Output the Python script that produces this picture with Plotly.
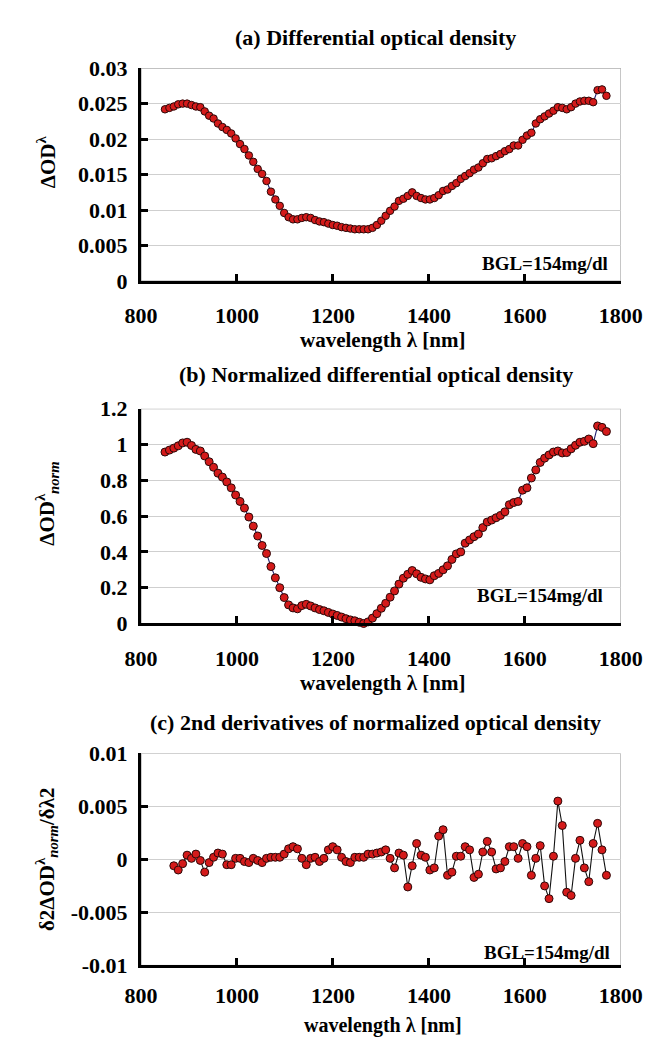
import plotly.graph_objects as go

# ---------------- data ----------------
WAVELENGTH = [
    850.0, 859.2, 868.4, 877.6, 886.8, 896.0, 905.2, 914.4, 923.6, 932.8,
    942.0, 951.2, 960.4, 969.6, 978.8, 988.0, 997.2, 1006.4, 1015.6, 1024.8,
    1034.0, 1043.2, 1052.4, 1061.6, 1070.8, 1080.0, 1089.2, 1098.4, 1107.6, 1116.8,
    1126.0, 1135.2, 1144.4, 1153.6, 1162.8, 1172.0, 1181.2, 1190.4, 1199.6, 1208.8,
    1218.0, 1227.2, 1236.4, 1245.6, 1254.8, 1264.0, 1273.2, 1282.4, 1291.6, 1300.8,
    1310.0, 1319.2, 1328.4, 1337.6, 1346.8, 1356.0, 1365.2, 1374.4, 1383.6, 1392.8,
    1402.0, 1411.2, 1420.4, 1429.6, 1438.8, 1448.0, 1457.2, 1466.4, 1475.6, 1484.8,
    1494.0, 1503.2, 1512.4, 1521.6, 1530.8, 1540.0, 1549.2, 1558.4, 1567.6, 1576.8,
    1586.0, 1595.2, 1604.4, 1613.6, 1622.8, 1632.0, 1641.2, 1650.4, 1659.6, 1668.8,
    1678.0, 1687.2, 1696.4, 1705.6, 1714.8, 1724.0, 1733.2, 1742.4, 1751.6, 1760.8,
    1770.0,
]

OD_DIFF = [
    0.0242, 0.0244, 0.0246, 0.0249, 0.0250, 0.0250, 0.0248, 0.0246, 0.0245, 0.0239,
    0.0233, 0.0229, 0.0222, 0.0217, 0.0213, 0.0208, 0.0201, 0.0193, 0.0186, 0.0177,
    0.0168, 0.0158, 0.0151, 0.0141, 0.0126, 0.0115, 0.0106, 0.0096, 0.0090, 0.0087,
    0.0087, 0.0089, 0.0090, 0.0089, 0.0086, 0.0084, 0.0083, 0.0081, 0.0079, 0.0078,
    0.0076, 0.0075, 0.0074, 0.0073, 0.0073, 0.0073, 0.0073, 0.0075, 0.0079, 0.0085,
    0.0092, 0.0099, 0.0105, 0.0113, 0.0116, 0.0120, 0.0125, 0.0120, 0.0117, 0.0115,
    0.0115, 0.0117, 0.0121, 0.0127, 0.0129, 0.0134, 0.0138, 0.0144, 0.0148, 0.0152,
    0.0157, 0.0160, 0.0166, 0.0172, 0.0173, 0.0176, 0.0179, 0.0183, 0.0186, 0.0191,
    0.0191, 0.0199, 0.0205, 0.0209, 0.0222, 0.0228, 0.0232, 0.0236, 0.0240, 0.0245,
    0.0244, 0.0242, 0.0245, 0.0250, 0.0253, 0.0254, 0.0254, 0.0252, 0.0269, 0.0270,
    0.0261,
]

OD_NORM = [
    0.958, 0.969, 0.980, 0.993, 1.009, 1.013, 0.995, 0.973, 0.964, 0.936,
    0.904, 0.873, 0.840, 0.818, 0.791, 0.758, 0.718, 0.682, 0.645, 0.595,
    0.544, 0.489, 0.436, 0.391, 0.318, 0.255, 0.200, 0.145, 0.104, 0.087,
    0.082, 0.100, 0.107, 0.098, 0.087, 0.078, 0.071, 0.062, 0.053, 0.045,
    0.036, 0.027, 0.020, 0.015, 0.007, 0.000, 0.009, 0.030, 0.055, 0.085,
    0.113, 0.147, 0.182, 0.220, 0.253, 0.275, 0.296, 0.278, 0.258, 0.249,
    0.244, 0.267, 0.280, 0.300, 0.322, 0.358, 0.389, 0.400, 0.449, 0.467,
    0.485, 0.500, 0.536, 0.567, 0.578, 0.591, 0.604, 0.624, 0.664, 0.676,
    0.682, 0.745, 0.758, 0.813, 0.858, 0.900, 0.924, 0.942, 0.958, 0.964,
    0.953, 0.955, 0.976, 0.996, 1.013, 1.018, 1.031, 1.005, 1.104, 1.096,
    1.073,
]

D2_WAVELENGTH = WAVELENGTH[2:]
D2_NORM = [
    -0.0006, -0.0010, -0.0004, 0.0004, 0.0001, 0.0005, -0.0001, -0.0012, -0.0003, 0.0002,
    0.0006, 0.0005, -0.0005, -0.0005, 0.0001, 0.0001, -0.0002, -0.0003, 0.0001, -0.0001,
    -0.0003, 0.0001, 0.0002, 0.0002, 0.0002, 0.0005, 0.0010, 0.0012, 0.0010, 0.0001,
    -0.0005, 0.0001, 0.0002, -0.0002, 0.0001, 0.0009, 0.0012, 0.0009, 0.0002, -0.0002,
    -0.0003, 0.0002, 0.0002, 0.0002, 0.0005, 0.0005, 0.0006, 0.0007,
    0.0009, 0.0001, -0.0008, 0.0006, 0.0004, -0.0026, -0.0006, 0.0015, 0.0004, 0.0002,
    -0.0010, -0.0008, 0.0022, 0.0028, -0.0015, -0.0012, 0.0003, 0.0003, 0.0012, 0.0009,
    -0.0017, -0.0014, 0.0007, 0.0017, 0.0007, -0.0009, -0.0008, -0.0002, 0.0012, 0.0012,
    0.0001, 0.0015, 0.0012, -0.0015, 0.0001, 0.0013, -0.0025, -0.0037, 0.0003, 0.0055,
    0.0032, -0.0031, -0.0034, 0.0001, 0.0018, -0.0008, -0.0021, 0.0015, 0.0034, 0.0009,
    -0.0015,
]

X_TICKS = [800, 1000, 1200, 1400, 1600, 1800]
A_TICKS = [0, 0.005, 0.01, 0.015, 0.02, 0.025, 0.03]
A_TICKTEXT = ["0", "0.005", "0.01", "0.015", "0.02", "0.025", "0.03"]
B_TICKS = [0, 0.2, 0.4, 0.6, 0.8, 1.0, 1.2]
B_TICKTEXT = ["0", "0.2", "0.4", "0.6", "0.8", "1", "1.2"]
C_TICKS = [-0.01, -0.005, 0, 0.005, 0.01]
C_TICKTEXT = ["-0.01", "-0.005", "0", "0.005", "0.01"]

TITLES = [
    "(a) Differential optical density",
    "(b) Normalized differential optical density",
    "(c) 2nd derivatives of normalized optical density",
]
Y_TITLES = [
    "ΔOD<sup>λ</sup>",
    "ΔOD<sup>λ</sup><sub><i>norm</i></sub>",
    "δ2ΔOD<sup>λ</sup><sub><i>norm</i></sub>/δλ2",
]
X_TITLE = "wavelength λ [nm]"
BGL_LABEL = "BGL=154mg/dl"

# ---------------- layout constants (pixels) ----------------
W, H = 659, 1044
FONT = "Liberation Serif"
X_LEFT, X_RIGHT = 123.3, 633.3
PANELS = [(49.3, 267.5), (398.3, 618.3), (751.4, 968.6)]  # (top, bottom)
TITLE_Y = [18, 363, 720]
XTITLE_Y = [328, 679, 1030]
XTITLE_SIZE = [21, 21, 20]
XLABEL_STANDOFF = [13, 13, 8]
YTITLE_Y = [145, 495, 860]
BGL_POS = [(622, 249), (616, 590), (624, 955)]


def px(xp):
    return xp / W


def py(yp):
    return 1 - yp / H


fig = go.Figure()

series = [
    (WAVELENGTH, OD_DIFF, "#1d1d6e", 7.5),
    (WAVELENGTH, OD_NORM, "#1d1d6e", 8),
    (D2_WAVELENGTH, D2_NORM, "#111111", 8),
]
for k, (xs, ys, lc, ms) in enumerate(series):
    sfx = "" if k == 0 else str(k + 1)
    fig.add_trace(go.Scatter(
        x=xs, y=ys, mode="lines+markers",
        xaxis="x" + sfx, yaxis="y" + sfx,
        line=dict(color=lc, width=1.1),
        marker=dict(size=ms, color="#d41a1a", line=dict(color="#2a0808", width=1)),
        showlegend=False, cliponaxis=False,
    ))

yranges = [[0, 0.03], [0, 1.2], [-0.01, 0.01]]
yticks = [(A_TICKS, A_TICKTEXT), (B_TICKS, B_TICKTEXT), (C_TICKS, C_TICKTEXT)]
tickfont = dict(family=FONT, size=22, color="black", weight="bold")

layout = dict(
    width=W, height=H,
    margin=dict(l=0, r=0, t=0, b=0),
    paper_bgcolor="white", plot_bgcolor="white",
    showlegend=False,
)
shapes = []
annotations = []
for k, (top, bot) in enumerate(PANELS):
    sfx = "" if k == 0 else str(k + 1)
    layout["xaxis" + sfx] = dict(
        domain=[px(X_LEFT), px(X_RIGHT)], range=[800, 1800],
        tickvals=X_TICKS, ticks="inside", ticklen=7, tickwidth=2.5, tickcolor="black",
        showline=True, linecolor="black", linewidth=3, showgrid=False, zeroline=False,
        tickfont=tickfont, ticklabelstandoff=XLABEL_STANDOFF[k], anchor="y" + sfx,
    )
    layout["yaxis" + sfx] = dict(
        domain=[py(bot), py(top)], range=yranges[k],
        tickvals=yticks[k][0], ticktext=yticks[k][1],
        ticks="inside", ticklen=7, tickwidth=2.5, tickcolor="black",
        showline=True, linecolor="black", linewidth=3,
        showgrid=True, gridcolor="#cfcfcf", gridwidth=1, zeroline=False,
        tickfont=tickfont, ticklabelstandoff=6, anchor="x" + sfx,
    )
    shapes.append(dict(
        type="rect", xref="x" + sfx, yref="y" + sfx,
        x0=800, x1=1800, y0=yranges[k][0], y1=yranges[k][1],
        line=dict(color="#9a9a9a", width=1), layer="below",
    ))
    annotations.append(dict(
        text=TITLES[k], x=px(373), y=py(TITLE_Y[k]), xref="paper", yref="paper",
        xanchor="center", yanchor="middle", showarrow=False,
        font=dict(family=FONT, size=22, color="black", weight="bold"),
    ))
    annotations.append(dict(
        text=X_TITLE, x=px(380), y=py(XTITLE_Y[k]), xref="paper", yref="paper",
        xanchor="center", yanchor="middle", showarrow=False,
        font=dict(family=FONT, size=XTITLE_SIZE[k], color="black", weight="bold"),
    ))
    annotations.append(dict(
        text=Y_TITLES[k], x=px(23), y=py(YTITLE_Y[k]), xref="paper", yref="paper",
        xanchor="center", yanchor="middle", showarrow=False, textangle=-90,
        font=dict(family=FONT, size=21, color="black", weight="bold"),
    ))
    bx, by = BGL_POS[k]
    annotations.append(dict(
        text=BGL_LABEL, x=px(bx), y=py(by), xref="paper", yref="paper",
        xanchor="right", yanchor="middle", showarrow=False,
        font=dict(family=FONT, size=19, color="black", weight="bold"),
    ))

layout["shapes"] = shapes
layout["annotations"] = annotations
fig.update_layout(**layout)

fig.write_html("out.html")
